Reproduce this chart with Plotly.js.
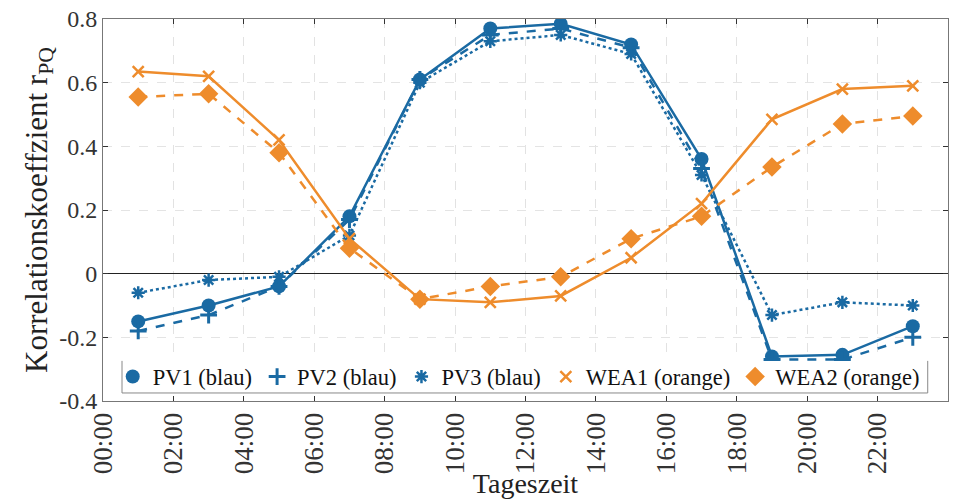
<!DOCTYPE html>
<html>
<head>
<meta charset="utf-8">
<script src="https://cdn.plot.ly/plotly-3.0.1.min.js"></script>
<style>html,body{margin:0;padding:0;background:#fff;}#chart{width:962px;height:499px;}</style>
</head>
<body>
<div id="chart"></div>
<script>
// Data (hours of day, point at odd hours)
var hours = [1, 3, 5, 7, 9, 11, 13, 15, 17, 19, 21, 23];
var pv1  = [-0.15, -0.10, -0.04, 0.18, 0.61, 0.77, 0.785, 0.72, 0.36, -0.26, -0.255, -0.165];
var pv2  = [-0.18, -0.13, -0.04, 0.17, 0.61, 0.75, 0.77, 0.71, 0.33, -0.27, -0.27, -0.20];
var pv3  = [-0.06, -0.02, -0.01, 0.12, 0.60, 0.73, 0.75, 0.69, 0.31, -0.13, -0.09, -0.10];
var wea1 = [0.635, 0.62, 0.42, 0.11, -0.08, -0.09, -0.07, 0.05, 0.22, 0.485, 0.58, 0.59];
var wea2 = [0.555, 0.565, 0.38, 0.08, -0.08, -0.04, -0.01, 0.11, 0.18, 0.335, 0.47, 0.495];
var seriesNames = ["PV1 (blau)", "PV2 (blau)", "PV3 (blau)", "WEA1 (orange)", "WEA2 (orange)"];
var tickVals = [0, 2, 4, 6, 8, 10, 12, 14, 16, 18, 20, 22, 24];
var tickText = ["00:00","02:00","04:00","06:00","08:00","10:00","12:00","14:00","16:00","18:00","20:00","22:00","00:00"];
var yTickVals = [-0.4, -0.2, 0, 0.2, 0.4, 0.6, 0.8];
var yTickText = ["-0.4", "-0.2", "0", "0.2", "0.4", "0.6", "0.8"];

var BLUE = "#1a6aa3";
var ORANGE = "#ee8c2c";
var SERIF = "'Liberation Serif', 'Times New Roman', serif";

var specs = [
  {y: pv1, color: BLUE, dash: "solid", marker: {symbol: "circle", size: 14, color: BLUE}},
  {y: pv2, color: BLUE, dash: "dash", marker: {symbol: "cross-thin-open", size: 12, color: BLUE, line: {color: BLUE, width: 3}}},
  {y: pv3, color: BLUE, dash: "dot", marker: {symbol: "asterisk-open", size: 11, color: BLUE, line: {color: BLUE, width: 2.5}}},
  {y: wea1, color: ORANGE, dash: "solid", marker: {symbol: "x-thin-open", size: 11, color: ORANGE, line: {color: ORANGE, width: 2.5}}},
  {y: wea2, color: ORANGE, dash: "dash", marker: {symbol: "diamond", size: 15, color: ORANGE}}
];

var traces = [];
specs.forEach(function (s, i) {
  traces.push({
    x: hours, y: s.y, type: "scatter", mode: "lines+markers",
    line: {color: s.color, width: 2.5, dash: s.dash},
    marker: s.marker, showlegend: false, hoverinfo: "x+y"
  });
});
specs.forEach(function (s, i) {
  traces.push({
    x: [null], y: [null], type: "scatter", mode: "markers",
    name: seriesNames[i], marker: s.marker, showlegend: true
  });
});

// legend box (drawn over the data lines, under the legend text)
var LBX0 = 0.0225, LBX1 = 0.976, LBY0 = 0.021, LBY1 = 0.105;

var layout = {
  width: 962, height: 499,
  margin: {l: 103, r: 14, t: 19, b: 98},
  paper_bgcolor: "#fff", plot_bgcolor: "#fff",
  font: {family: SERIF, color: "#222", size: 20},
  showlegend: true,
  legend: {
    orientation: "h", x: LBX0 - 0.011, y: (LBY0 + LBY1) / 2, xanchor: "left", yanchor: "middle",
    bgcolor: "rgba(0,0,0,0)", borderwidth: 0,
    font: {family: SERIF, size: 22.5, color: "#111"},
    itemwidth: 30, tracegroupgap: 0
  },
  shapes: [
    {type: "rect", xref: "paper", yref: "paper", x0: LBX0, x1: LBX1, y0: LBY0, y1: LBY1,
     fillcolor: "#fff", line: {width: 0}, layer: "above"},
    {type: "path", xref: "paper", yref: "paper",
     path: "M " + LBX0 + "," + LBY1 + " L " + LBX0 + "," + LBY0 + " L " + LBX1 + "," + LBY0 + " L " + LBX1 + "," + LBY1,
     line: {color: "#888", width: 1}, layer: "above"}
  ],
  xaxis: {
    range: [0, 24], tickvals: tickVals, ticktext: tickText, tickangle: -90,
    showgrid: true, gridcolor: "#e2e2e2", griddash: "dash", gridwidth: 1,
    zeroline: false, showline: true, mirror: "ticks", linecolor: "#777", linewidth: 1,
    ticks: "inside", ticklen: 5, tickcolor: "#333",
    tickfont: {family: SERIF, size: 27, color: "#333"},
    title: {text: "Tageszeit", font: {family: SERIF, size: 28, color: "#222"}, standoff: 4}
  },
  yaxis: {
    range: [-0.4, 0.8], tickvals: yTickVals, ticktext: yTickText,
    showgrid: true, gridcolor: "#e4e4e4", griddash: "dash", gridwidth: 1,
    zeroline: true, zerolinecolor: "#222", zerolinewidth: 1.5,
    showline: true, mirror: "ticks", linecolor: "#777", linewidth: 1,
    ticks: "inside", ticklen: 5, tickcolor: "#333",
    tickfont: {family: SERIF, size: 24, color: "#333"},
    title: {text: "Korrelationskoeffzient r<sub>PQ</sub>", font: {family: SERIF, size: 31, color: "#222"}, standoff: 2}
  }
};

Plotly.newPlot("chart", traces, layout, {displayModeBar: false, staticPlot: true});
</script>
</body>
</html>
